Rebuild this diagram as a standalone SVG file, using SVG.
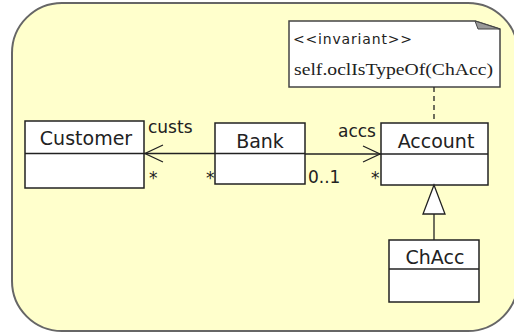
<svg xmlns="http://www.w3.org/2000/svg" width="514" height="333" viewBox="0 0 514 333">
<style>
.box{fill:#fff;stroke:#222;stroke-width:1.5}
.ln{stroke:#222;stroke-width:1.3;fill:none}
.t{font-family:"DejaVu Sans",sans-serif;fill:#222}
.name{font-size:19px;text-anchor:middle}
.lab{font-size:17px}
</style>
<rect x="12" y="3" width="506" height="328" rx="50" ry="50" fill="#ffffcc" stroke="#666" stroke-width="2"/>
<g id="note">
<path d="M289,21 L475,21 L500,29 L500,87 L289,87 Z" fill="#fff" stroke="#444" stroke-width="1.5"/>
<path d="M475,21 L478,29 L500,29 Z" fill="#999" stroke="#444" stroke-width="1"/>
<text class="t" x="293" y="44" font-size="14" textLength="119" lengthAdjust="spacing">&lt;&lt;invariant&gt;&gt;</text>
<text x="294" y="75" font-family="'Liberation Serif',serif" font-size="17" fill="#222" textLength="199" lengthAdjust="spacingAndGlyphs">self.oclIsTypeOf(ChAcc)</text>
</g>
<g id="Customer">
<rect class="box" x="25" y="121" width="119" height="67"/>
<line class="ln" x1="25" y1="153.5" x2="144" y2="153.5"/>
<text class="t name" x="86" y="145">Customer</text>
</g>
<g id="Bank">
<rect class="box" x="215" y="123" width="90" height="61"/>
<line class="ln" x1="215" y1="153.5" x2="305" y2="153.5"/>
<text class="t name" x="260" y="148">Bank</text>
</g>
<g id="Account">
<rect class="box" x="381" y="123" width="107" height="62"/>
<line class="ln" x1="381" y1="154" x2="488" y2="154"/>
<text class="t name" x="436" y="148">Account</text>
</g>
<g id="ChAcc">
<rect class="box" x="389" y="240" width="90" height="62"/>
<line class="ln" x1="389" y1="269" x2="479" y2="269"/>
<text class="t name" x="435" y="264">ChAcc</text>
</g>
<g id="connectors">
<line class="ln" x1="144" y1="153.5" x2="215" y2="153.5"/>
<polyline class="ln" points="163,145 145,153.5 163,162"/>
<line class="ln" x1="305" y1="154" x2="381" y2="154"/>
<polyline class="ln" points="363,146 380,154 363,162"/>
<line class="ln" x1="434" y1="214" x2="434" y2="240"/>
<polygon points="434,185 423,214 445,214" fill="#fff" stroke="#222" stroke-width="1.3"/>
<line class="ln" x1="434" y1="87" x2="434" y2="123" stroke-dasharray="5,4"/>
<text class="t lab" x="148" y="133">custs</text>
<text class="t lab" x="149" y="184">*</text>
<text class="t lab" x="206" y="184">*</text>
<text class="t lab" x="338" y="137">accs</text>
<text class="t lab" x="308" y="183">0..1</text>
<text class="t lab" x="371" y="184">*</text>
</g>
</svg>
